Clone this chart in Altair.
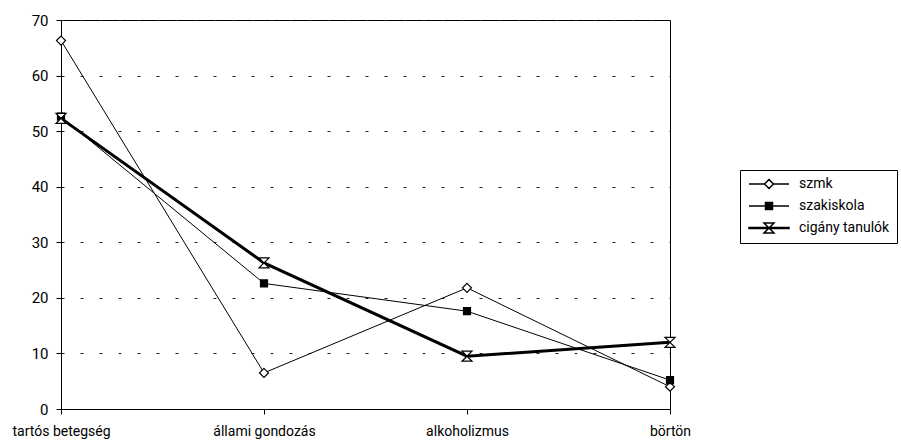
import altair as alt
import pandas as pd

categories = ["tartós betegség", "állami gondozás", "alkoholizmus", "börtön"]
series = ["szmk", "szakiskola", "cigány tanulók"]
szmk = [66.3, 6.5, 21.8, 4.0]
szakiskola = [52.6, 22.6, 17.6, 5.2]
cigany = [52.3, 26.3, 9.5, 12.0]
y_ticks = [0, 10, 20, 30, 40, 50, 60, 70]

rows = []
for name, vals in zip(series, [szmk, szakiskola, cigany]):
    for c, v in zip(categories, vals):
        rows.append({"cat": c, "series": name, "value": v})
df = pd.DataFrame(rows)

FONT = "Roboto"

marker_paths = [
    "M0,-0.9L0.9,0L0,0.9L-0.9,0Z",
    "M-0.7,-0.7L0.7,-0.7L0.7,0.7L-0.7,0.7Z",
    "M-1,-1L1,-1L-1,1L1,1Z",
]
legend_paths = [
    "M-1,0L2.1,0M3.9,0L7,0M3,-0.9L3.9,0L3,0.9L2.1,0Z",
    "M-1,0L7,0M2.3,-0.7L3.7,-0.7L3.7,0.7L2.3,0.7Z",
    "M-1,-0.1L7,-0.1L7,0.1L-1,0.1ZM2,-1L4,-1L2,1L4,1Z",
]
fills = ["white", "black", "white"]
widths = [1, 1, 3]

x_enc = alt.X(
    "cat:N", sort=categories, title=None,
    scale=alt.Scale(type="point", padding=0),
    axis=alt.Axis(labelAngle=0, tickSize=5, labelPadding=10, domainColor="black",
                  tickColor="black", labelFontSize=14, labelColor="black", labelFont=FONT),
)
y_enc = alt.Y(
    "value:Q", title=None,
    scale=alt.Scale(domain=[0, 70], nice=False),
    axis=alt.Axis(values=y_ticks, tickSize=5, labelPadding=8, grid=True,
                  gridDash=[3, 16], gridColor="#222222", gridWidth=1,
                  domainColor="black", tickColor="black", labelFontSize=15,
                  labelColor="black", labelFont=FONT),
)

base = alt.Chart(df)

line_layers = []
for name, w in zip(series, widths):
    line_layers.append(
        base.transform_filter(alt.datum.series == name)
        .mark_line(color="black", strokeWidth=w)
        .encode(x=x_enc, y=y_enc)
    )

points = base.mark_point(filled=False, color="black", strokeWidth=1.2, opacity=1, size=100).encode(
    x=x_enc, y=y_enc,
    shape=alt.Shape("series:N", scale=alt.Scale(domain=series, range=marker_paths), legend=None),
    fill=alt.Fill("series:N", scale=alt.Scale(domain=series, range=fills), legend=None),
)

leg = alt.Legend(
    title=None, orient="none", legendX=679, legendY=150,
    strokeColor="black", padding=7, symbolSize=100, labelOffset=38,
    labelFontSize=14, labelFont=FONT, labelColor="black", rowPadding=7,
    fillColor="white", symbolOpacity=1, symbolStrokeWidth=1.5,
)
legend_layer = base.transform_filter(alt.datum.value < 0).mark_point(
    filled=False, color="black", size=100, opacity=1, strokeWidth=1.5
).encode(
    x=x_enc, y=y_enc,
    shape=alt.Shape("series:N", scale=alt.Scale(domain=series, range=legend_paths), legend=leg),
    fill=alt.Fill("series:N", scale=alt.Scale(domain=series, range=fills), legend=leg),
)

chart = alt.layer(*line_layers, points, legend_layer).resolve_scale(
    shape="independent", fill="independent"
).properties(
    width=609, height=389,
    autosize=alt.AutoSizeParams(type="none"),
    padding={"left": 61, "top": 20, "right": 231, "bottom": 39},
    background="white",
).configure_view(stroke="black", strokeWidth=1)

chart.save("out.html", embed_options={"renderer": "svg", "actions": False})
